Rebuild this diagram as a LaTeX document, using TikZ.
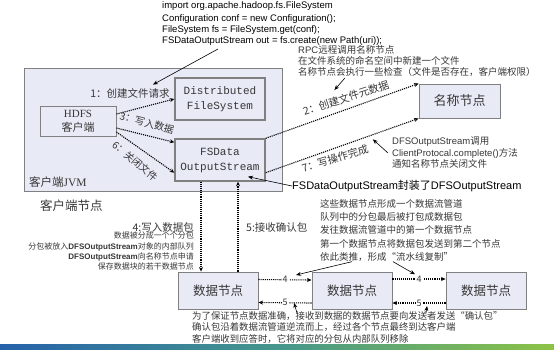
\documentclass[tikz,border=0pt]{standalone}
\usepackage{fontspec}
\setmainfont{Noto Sans CJK SC}
\setmonofont{Liberation Mono}
\newfontfamily\arialfont{Liberation Sans}
\newfontfamily\timesfont{Liberation Serif}
\usepackage{tikz}
\usetikzlibrary{arrows.meta, positioning, calc}
\definecolor{boxfill}{RGB}{232, 234, 246}
\definecolor{boxline}{RGB}{128, 128, 128}
\definecolor{notegray}{RGB}{55, 55, 55}
\definecolor{barblue}{RGB}{38, 98, 170}
\definecolor{barteal}{RGB}{70, 150, 140}
\definecolor{bargreen}{RGB}{140, 195, 70}
\newcommand{\lat}[1]{{\arialfont #1}}
\newcommand{\fsz}[2]{\fontsize{#1}{#2}\selectfont}

\begin{document}
\begin{tikzpicture}[x=1pt, y=-1pt,
    box/.style={draw=boxline, fill=boxfill, line width=0.9pt, inner sep=0pt, align=center},
    dotarrow/.style={densely dotted, line width=1.1pt, -{Stealth[length=4.5pt, width=4pt]}},
    pointer/.style={line width=0.6pt, -{Stealth[length=5pt, width=4pt]}},
    note/.style={inner sep=0pt, align=left, text=notegray},
    numlabel/.style={fill=white, inner sep=1pt, text=notegray, font=\fsz{9}{10}}]

    \useasboundingbox (0,0) rectangle (554,349);

    % client side
    \node[box, minimum width=258pt, minimum height=123pt] (jvm) at (153,129.5) {};
    \node[anchor=west, inner sep=0pt, text=notegray, font=\fsz{11.5}{12}] (jvmlabel) at (29,182) {客户端{\timesfont JVM}};
    \node[box, minimum width=76pt, minimum height=30pt, text=notegray, font=\fsz{11}{14}] (client) at (78,121) {{\timesfont HDFS}\\客户端};
    \node[box, line width=1.4pt, minimum width=90pt, minimum height=42pt, text=notegray, font=\ttfamily\fsz{11}{15}] (dfs) at (220,99) {Distributed\\FileSystem};
    \node[box, line width=1.4pt, minimum width=90pt, minimum height=42pt, text=notegray, font=\ttfamily\fsz{11}{15}] (fsdata) at (220,160) {FSData\\OutputStream};
    \node[anchor=west, inner sep=0pt, text=notegray, font=\fsz{12.5}{14}] (clientnode) at (40,206) {客户端节点};

    % name node and data nodes
    \node[box, minimum width=81pt, minimum height=34pt, text=notegray, font=\fsz{13}{14}] (namenode) at (459.5,101) {名称节点};
    \node[box, minimum width=80pt, minimum height=37pt, text=notegray, font=\fsz{12.5}{14}] (dn1) at (218,290.5) {数据节点};
    \node[box, minimum width=80pt, minimum height=37pt, text=notegray, font=\fsz{12.5}{14}] (dn2) at (352,291) {数据节点};
    \node[box, minimum width=80pt, minimum height=37pt, text=notegray, font=\fsz{12.5}{14}] (dn3) at (486,291) {数据节点};

    % code and notes
    \node[anchor=north west, inner sep=0pt, align=left, font=\arialfont\fsz{9.5}{11}] (code) at (162,1)
        {import org.apache.hadoop.fs.FileSystem\\[2.5pt]
         Configuration conf = new Configuration();\\
         FileSystem fs = FileSystem.get(conf);\\
         FSDataOutputStream out = fs.create(new Path(uri));};
    \node[note, anchor=north west, font=\fsz{9.5}{11}] (rpcnote) at (298,45.5)
        {\lat{RPC}远程调用名称节点\\在文件系统的命名空间中新建一个文件\\名称节点会执行一些检查（文件是否存在，客户端权限）};
    \node[note, anchor=north west, font=\fsz{9.5}{11.5}] (closenote) at (392,137)
        {\lat{DFSOutputStream}调用\\\lat{ClientProtocal.complete()}方法\\通知名称节点关闭文件};
    \node[anchor=west, inner sep=0pt, font=\fsz{11}{12}] (wrapnote) at (292,186)
        {\lat{FSDataOutputStream}封装了\lat{DFSOutputStream}};
    \node[anchor=east, inner sep=0pt, text=notegray, font=\fsz{10.5}{12}] (writelab) at (194,227) {4:写入数据包};
    \node[note, anchor=north east, align=right, font=\fsz{8}{10.3}] (splitnote) at (194,232)
        {数据被分成一个个分包\\分包被放入\lat{\bfseries DFSOutputStream}对象的内部队列\\\lat{\bfseries DFSOutputStream}向名称节点申请\\保存数据块的若干数据节点};
    \node[anchor=west, inner sep=0pt, text=notegray, font=\fsz{10.5}{12}] (acklab) at (246,227) {5:接收确认包};
    \node[note, anchor=north west, font=\fsz{9.5}{13.3}] (pipenote) at (320,199)
        {这些数据节点形成一个数据流管道\\队列中的分包最后被打包成数据包\\发往数据流管道中的第一个数据节点\\第一个数据节点将数据包发送到第二个节点\\依此类推，形成“流水线复制”};
    \node[note, anchor=north west, font=\fsz{9.4}{11.8}] (acknote) at (192,311)
        {为了保证节点数据准确，接收到数据的数据节点要向发送者发送“确认包”\\确认包沿着数据流管道逆流而上，经过各个节点最终到达客户端\\客户端收到应答时，它将对应的分包从内部队列移除};

    % step labels
    \node[text=notegray, font=\fsz{10.5}{12}] (lab1) at (130,93) {1：创建文件请求};
    \node[text=notegray, font=\fsz{10}{12}, rotate=-15] (lab3) at (147,123) {3：写入数据};
    \node[text=notegray, font=\fsz{10}{12}, rotate=-40] (lab6) at (135,161) {6：关闭文件};
    \node[text=notegray, font=\fsz{10.5}{12}, rotate=18] (lab2) at (346,98) {2：创建文件元数据};
    \node[text=notegray, font=\fsz{10.5}{12}, rotate=17] (lab7) at (335,158.5) {7：写操作完成};

    % connectors
    \draw[dotarrow] ([yshift=7pt]client.east) -- (dfs.west);
    \draw[dotarrow] ([yshift=-7pt]client.east) -- ([yshift=-4pt]fsdata.north west);
    \draw[dotarrow] ([yshift=-11pt]client.east) -- ([yshift=9pt]fsdata.south west);
    \draw[dotarrow] (fsdata.north east) -- (namenode.north west);
    \draw[dotarrow] ([yshift=9pt]fsdata.south east) -- (namenode.south west);
    \draw[dotarrow] ([xshift=-19pt]fsdata.south) -- ([xshift=-19pt]fsdata.south |- dn1.north);
    \draw[dotarrow] ([xshift=18pt]fsdata.south |- dn1.north) -- ([xshift=18pt]fsdata.south);
    \draw[dotarrow] ([yshift=11pt]dn1.east) -- node[numlabel] (four1) {4} ([yshift=11pt]dn2.west);
    \draw[dotarrow] ([yshift=-12pt]dn2.west) -- node[numlabel] (five1) {5} ([yshift=-12pt]dn1.east);
    \draw[dotarrow] ([yshift=12pt]dn2.east) -- node[numlabel] (four2) {4} ([yshift=12pt]dn3.west);
    \draw[dotarrow] ([yshift=-12pt]dn3.west) -- node[numlabel] (five2) {5} ([yshift=-12pt]dn2.east);

    % pointers from notes
    \coordinate (codetail) at (218,49);
    \draw[pointer] (codetail) -- ([xshift=23pt]lab1.north);
    \draw[pointer] ([xshift=47pt,yshift=-1pt]rpcnote.south west) -- ([xshift=-9pt]lab2.north);
    \draw[pointer] ([xshift=-4pt]closenote.west) -- ([xshift=4pt]lab7.north east);
    \draw[pointer] (wrapnote.west) -- ([xshift=28pt,yshift=5pt]fsdata.south);
    \draw[pointer] ([xshift=32pt]pipenote.south west) -- ([xshift=7pt]four1.north east);
    \draw[pointer] ([xshift=73pt]pipenote.south west) -- (four2.north west);
    \draw[pointer] ([xshift=105pt,yshift=-2pt]acknote.north west) -- ([xshift=5pt,yshift=-5pt]five1.north east);
    \draw[pointer] ([xshift=234pt,yshift=-2pt]acknote.north west) -- ([xshift=4pt,yshift=-3pt]five2.east);

    % bottom bar
    \shade[left color=barblue, right color=bargreen, middle color=barteal] (0,344) rectangle (554,349);
\end{tikzpicture}
\end{document}
